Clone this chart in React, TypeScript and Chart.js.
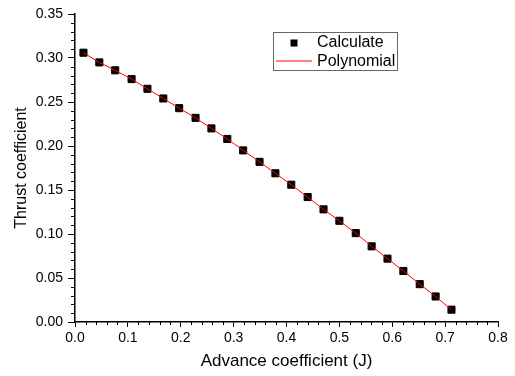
import React, { useEffect, useRef } from "react";
import { Chart, registerables } from "chart.js";

Chart.register(...registerables);

const advanceJ = [
  0.016, 0.046, 0.076, 0.107, 0.137, 0.167, 0.197, 0.228, 0.258, 0.288, 0.318, 0.349,
  0.379, 0.409, 0.44, 0.47, 0.5, 0.531, 0.561, 0.591, 0.621, 0.652, 0.682, 0.712,
];
const calculatedKt = [
  0.306, 0.295, 0.286, 0.276, 0.265, 0.254, 0.243, 0.232, 0.22, 0.208, 0.195, 0.182,
  0.169, 0.156, 0.142, 0.128, 0.115, 0.101, 0.086, 0.072, 0.058, 0.043, 0.029, 0.014,
];
const polynomialKt = [
  0.306, 0.295, 0.286, 0.276, 0.265, 0.254, 0.243, 0.232, 0.22, 0.208, 0.195, 0.182,
  0.169, 0.156, 0.142, 0.128, 0.115, 0.101, 0.086, 0.072, 0.058, 0.043, 0.029, 0.014,
];
const seriesNames = ["Calculate", "Polynomial"];
const xTitle = "Advance coefficient (J)";
const yTitle = "Thrust coefficient";

const FONT = "'Liberation Sans', Arial, sans-serif";

const minorTicks = {
  id: "minorTicks",
  afterDraw(chart: any) {
    const ctx = chart.ctx;
    const xs = chart.scales.x;
    const ys = chart.scales.y;
    ctx.save();
    ctx.strokeStyle = "#000";
    ctx.lineWidth = 1;
    ctx.beginPath();
    for (let i = 0; i <= 40; i++) {
      if (i % 5 === 0) continue;
      const px = Math.round(xs.getPixelForValue(i * 0.02)) + 0.5;
      ctx.moveTo(px, xs.top);
      ctx.lineTo(px, xs.top + 3);
    }
    for (let i = 0; i <= 35; i++) {
      if (i % 5 === 0) continue;
      const py = Math.round(ys.getPixelForValue(i * 0.01)) + 0.5;
      ctx.moveTo(ys.right, py);
      ctx.lineTo(ys.right - 4, py);
    }
    ctx.stroke();
    ctx.restore();
  },
};

const boxLegend = {
  id: "boxLegend",
  afterDraw(chart: any) {
    const ctx = chart.ctx;
    ctx.save();
    ctx.strokeStyle = "#666";
    ctx.lineWidth = 1;
    ctx.strokeRect(273.5, 32.5, 124, 38);
    ctx.fillStyle = "#000";
    ctx.fillRect(290.5, 39.5, 7, 7);
    ctx.strokeStyle = "#ff0000";
    ctx.lineWidth = 1;
    ctx.beginPath();
    ctx.moveTo(276, 61);
    ctx.lineTo(312, 61);
    ctx.stroke();
    ctx.fillStyle = "#000";
    ctx.font = `16px ${FONT}`;
    ctx.textBaseline = "middle";
    ctx.textAlign = "left";
    ctx.fillText(seriesNames[0], 317, 43);
    ctx.fillText(seriesNames[1], 317, 61.5);
    ctx.restore();
  },
};

export default function App() {
  const ref = useRef<HTMLCanvasElement | null>(null);
  useEffect(() => {
    if (!ref.current) return;
    const chart = new Chart(ref.current, {
      type: "scatter",
      data: {
        datasets: [
          {
            label: seriesNames[1],
            data: advanceJ.map((x, i) => ({ x, y: polynomialKt[i] })),
            showLine: true,
            borderColor: "#ff0000",
            borderWidth: 1,
            pointRadius: 0,
            fill: false,
          },
          {
            label: seriesNames[0],
            data: advanceJ.map((x, i) => ({ x, y: calculatedKt[i] })),
            pointStyle: "rect",
            pointRadius: 5,
            backgroundColor: "#000",
            borderColor: "#000",
            borderWidth: 1,
            showLine: false,
          },
        ],
      },
      options: {
        animation: false,
        responsive: false,
        maintainAspectRatio: false,
        layout: { padding: { top: 14, right: 17, bottom: 0, left: 0 } },
        plugins: { legend: { display: false }, tooltip: { enabled: false }, title: { display: false } },
        scales: {
          x: {
            type: "linear",
            min: 0,
            max: 0.8,
            afterFit(scale: any) {
              scale.height = 54;
            },
            ticks: {
              stepSize: 0.1,
              color: "#000",
              font: { family: FONT, size: 14 },
              padding: 3,
              maxRotation: 0,
              callback: (v: any) => Number(v).toFixed(1),
            },
            grid: { drawOnChartArea: false, drawTicks: true, tickLength: 5, color: "#000", lineWidth: 1 },
            border: { display: true, color: "#000", width: 1.5 },
            title: {
              display: true,
              text: xTitle,
              color: "#000",
              font: { family: FONT, size: 17 },
              padding: { top: 0, bottom: 4 },
            },
          },
          y: {
            type: "linear",
            min: 0,
            max: 0.35,
            afterFit(scale: any) {
              scale.width = 75;
            },
            ticks: {
              stepSize: 0.05,
              color: "#000",
              font: { family: FONT, size: 14 },
              padding: 5,
              callback: (v: any) => Number(v).toFixed(2),
            },
            grid: { drawOnChartArea: false, drawTicks: true, tickLength: 7, color: "#000", lineWidth: 1 },
            border: { display: true, color: "#000", width: 1.5 },
            title: {
              display: true,
              text: yTitle,
              color: "#000",
              font: { family: FONT, size: 16 },
              padding: { top: 12, bottom: 0 },
            },
          },
        },
      },
      plugins: [minorTicks, boxLegend],
    });
    return () => chart.destroy();
  }, []);
  return (
    <div style={{ position: "absolute", left: 0, top: 0, width: 515, height: 376, background: "#fff" }}>
      <canvas ref={ref} width={515} height={376} style={{ display: "block" }} />
    </div>
  );
}
